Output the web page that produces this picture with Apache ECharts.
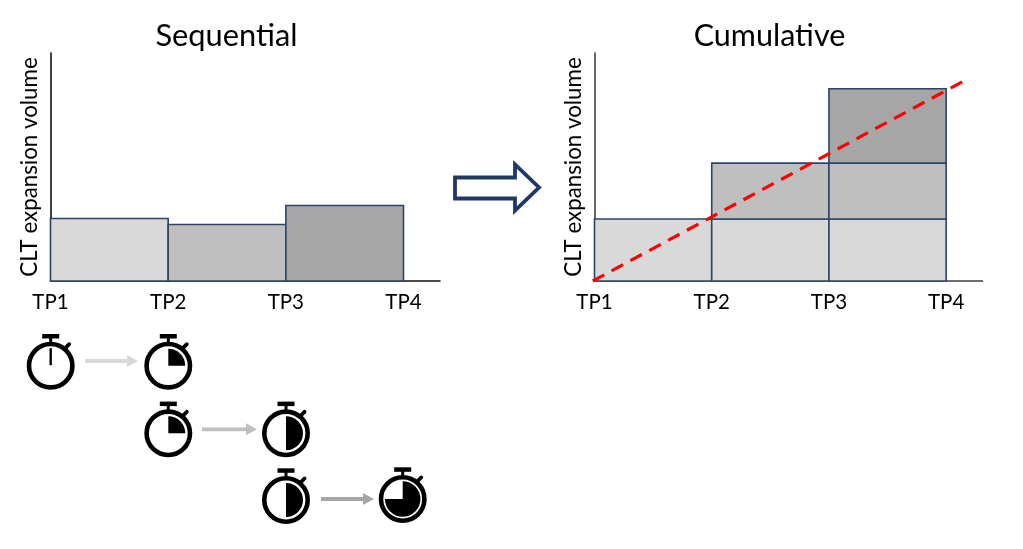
<!DOCTYPE html>
<html>
<head>
<meta charset="utf-8">
<style>html,body{margin:0;padding:0;background:#fff}#c{width:1023px;height:549px}</style>
<script src="https://cdn.jsdelivr.net/npm/echarts@6/dist/echarts.min.js"></script>
</head>
<body>
<div id="c"></div>
<script>
const tpLabels = ['TP1','TP2','TP3','TP4'];
const sequentialValues = [27.4, 24.8, 33.1];
const layer1Values = [27.2, 27.2, 27.2];
const layer2Values = [null, 24.5, 24.5];
const layer3Values = [null, null, 32.6];
const trendX = [-0.015, 3.15];
const trendY = [0, 87.7];
const fills = ['#d9d9d9','#bfbfbf','#a6a6a6'];

const seqRects = sequentialValues.map((v,i)=>[i,i+1,0,v,i]);
const cumRects = [];
[layer1Values,layer2Values,layer3Values].forEach((layer,k)=>{
  layer.forEach((v,i)=>{
    if(v==null) return;
    let base=0;
    for(let j=0;j<k;j++) base+=[layer1Values,layer2Values,layer3Values][j][i]||0;
    cumRects.push([i,i+1,base,base+v,k]);
  });
});
function renderRect(params,api){
  const a=api.coord([api.value(0),api.value(3)]);
  const b=api.coord([api.value(1),api.value(2)]);
  return {type:'rect',shape:{x:a[0],y:a[1],width:b[0]-a[0],height:b[1]-a[1]},
    style:{fill:fills[api.value(4)],stroke:'#2f4468',lineWidth:1.6}};
}
const FONT='Lato';
function xAxis(idx,color){
  return {type:'value',gridIndex:idx,min:0,max:3.31,interval:1,
    axisLine:{show:true,onZero:false,lineStyle:{color:color,width:1.6}},axisTick:{show:false},splitLine:{show:false},
    axisLabel:{show:true,margin:11,fontFamily:FONT,fontSize:20.5,color:'#000',showMaxLabel:false,hideOverlap:false,
      formatter:v=>Number.isInteger(v)?tpLabels[v]:''}};
}
function yAxis(idx,color){
  return {type:'value',gridIndex:idx,min:0,max:100,
    axisLine:{show:true,lineStyle:{color:color,width:1.6}},axisTick:{show:false},splitLine:{show:false},axisLabel:{show:false},
    name:'CLT expansion volume',nameLocation:'middle',nameRotate:90,nameGap:10,
    nameTextStyle:{fontFamily:FONT,fontSize:22.3,color:'#000'}};
}

// Decorative stopwatches: [cx, cy, filled fraction]
const watches = [[50.7,365.7,0],[168.3,365.7,0.25],[168.3,433.3,0.25],[286,433.3,0.5],[286,500,0.5],[402.7,499,0.75]];
// Decorative arrows: [x0, x1, y, colour index]
const arrows = [[85,138,361,0],[202,257,429.3,1],[321,374,499,2]];
const gfx=[];
watches.forEach(([cx,cy,f])=>{
  gfx.push({type:'rect',shape:{x:cx-8.5,y:cy-31.7,width:17,height:4.5},style:{fill:'#000'}});
  gfx.push({type:'rect',shape:{x:cx-1.5,y:cy-28,width:3,height:6},style:{fill:'#000'}});
  gfx.push({type:'line',shape:{x1:cx+13.3,y1:cy-16.3,x2:cx+18.5,y2:cy-21.5},style:{stroke:'#000',lineWidth:3.8,lineCap:'round'}});
  gfx.push({type:'circle',shape:{cx,cy,r:21.7},style:{fill:'#fff',stroke:'#000',lineWidth:4.6}});
  if(f===0){
    gfx.push({type:'rect',shape:{x:cx-1.2,y:cy-17.5,width:2.4,height:17},style:{fill:'#000'}});
  }else{
    const r=f>=0.75?17.8:17;
    gfx.push({type:'sector',shape:{cx,cy,r0:0,r,startAngle:-Math.PI/2,endAngle:-Math.PI/2+f*2*Math.PI,clockwise:true},style:{fill:'#000'}});
  }
});
arrows.forEach(([x0,x1,y,c])=>{
  gfx.push({type:'line',shape:{x1:x0,y1:y,x2:x1-9,y2:y},style:{stroke:fills[c],lineWidth:3.8}});
  gfx.push({type:'polygon',shape:{points:[[x1-11,y-6],[x1,y],[x1-11,y+6]]},style:{fill:fills[c]}});
});
gfx.push({type:'polygon',shape:{points:[[455,177.5],[515,177.5],[515,164.5],[539,187.5],[515,210.5],[515,198.5],[455,198.5]]},
  style:{fill:'#fff',stroke:'#1f3864',lineWidth:3.8}});

const chart=echarts.init(document.getElementById('c'),null,{renderer:'canvas'});
chart.setOption({
  animation:false,
  backgroundColor:'#fff',
  title:[
    {text:'Sequential',left:221.5,top:31,textAlign:'center',textVerticalAlign:'middle',textStyle:{fontFamily:FONT,fontSize:30.8,fontWeight:'normal',color:'#000'}},
    {text:'Cumulative',left:764.5,top:31,textAlign:'center',textVerticalAlign:'middle',textStyle:{fontFamily:FONT,fontSize:30.5,fontWeight:'normal',color:'#000'}}
  ],
  grid:[
    {left:50.5,top:53,width:389.5,height:228,containLabel:false},
    {left:594.5,top:53,width:388,height:228,containLabel:false}
  ],
  xAxis:[xAxis(0,'#111'),xAxis(1,'#404040')],
  yAxis:[yAxis(0,'#111'),yAxis(1,'#404040')],
  series:[
    {type:'custom',xAxisIndex:0,yAxisIndex:0,renderItem:renderRect,data:seqRects,encode:{x:[0,1],y:[2,3]},silent:true},
    {type:'custom',xAxisIndex:1,yAxisIndex:1,renderItem:renderRect,data:cumRects,encode:{x:[0,1],y:[2,3]},silent:true},
    {type:'line',xAxisIndex:1,yAxisIndex:1,showSymbol:false,symbol:'none',clip:false,silent:true,z:5,
      data:trendX.map((x,i)=>[x,trendY[i]]),
      lineStyle:{color:'#ff0000',width:3.2,type:[13,8.4]}}
  ],
  graphic:{elements:gfx}
});
</script>
</body>
</html>
